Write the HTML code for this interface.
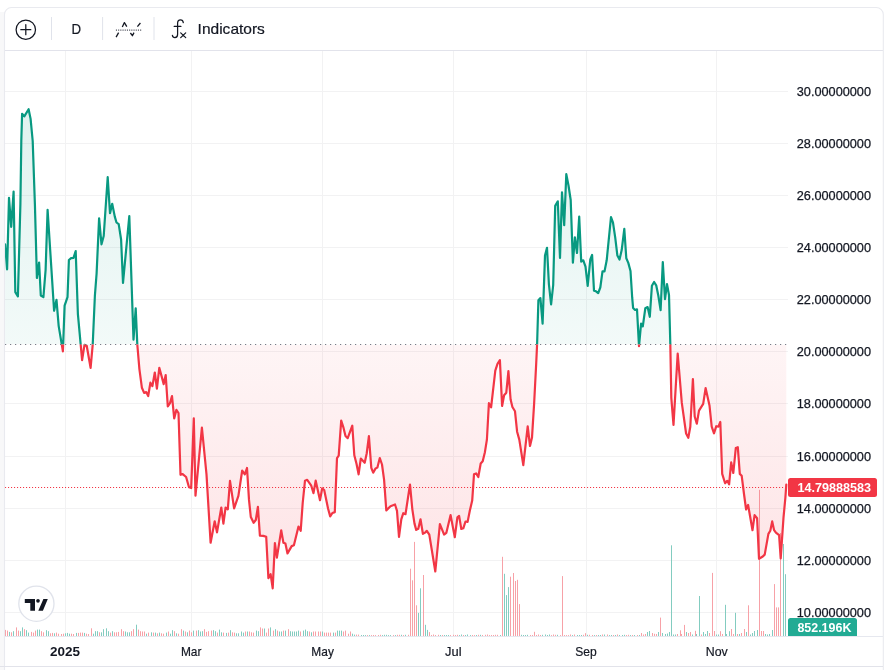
<!DOCTYPE html>
<html><head><meta charset="utf-8"><title>Chart</title>
<style>html,body{margin:0;padding:0;background:#fff;}body{width:884px;height:670px;overflow:hidden;font-family:"Liberation Sans",sans-serif;}svg{display:block;will-change:transform;}text{font-family:"Liberation Sans",sans-serif;}</style>
</head><body>
<svg width="884" height="670" viewBox="0 0 884 670">
<defs>
<linearGradient id="gt" gradientUnits="userSpaceOnUse" x1="0" y1="50.5" x2="0" y2="344.5"><stop offset="0" stop-color="#089981" stop-opacity="0.145"/><stop offset="1" stop-color="#089981" stop-opacity="0.05"/></linearGradient>
<linearGradient id="gb" gradientUnits="userSpaceOnUse" x1="0" y1="344.5" x2="0" y2="636.5"><stop offset="0" stop-color="#f23645" stop-opacity="0.05"/><stop offset="1" stop-color="#f23645" stop-opacity="0.16"/></linearGradient>
<clipPath id="cu"><rect x="0" y="50.5" width="884" height="294.0"/></clipPath>
<clipPath id="cd"><rect x="0" y="344.5" width="884" height="292.0"/></clipPath>
<clipPath id="frame"><rect x="4.5" y="7.5" width="878" height="659" rx="7" ry="7"/></clipPath>
</defs>
<rect x="0" y="0" width="884" height="670" fill="#fff"/>
<rect x="0" y="12" width="4.5" height="658" fill="#f8f8f9"/>
<g stroke="#f2f2f3" stroke-width="1">
<line x1="65.5" y1="50.5" x2="65.5" y2="636.5"/>
<line x1="191.5" y1="50.5" x2="191.5" y2="636.5"/>
<line x1="322.5" y1="50.5" x2="322.5" y2="636.5"/>
<line x1="453.5" y1="50.5" x2="453.5" y2="636.5"/>
<line x1="586.5" y1="50.5" x2="586.5" y2="636.5"/>
<line x1="716.5" y1="50.5" x2="716.5" y2="636.5"/>
<line x1="5" y1="91.5" x2="788" y2="91.5"/>
<line x1="5" y1="143.5" x2="788" y2="143.5"/>
<line x1="5" y1="195.5" x2="788" y2="195.5"/>
<line x1="5" y1="247.5" x2="788" y2="247.5"/>
<line x1="5" y1="299.5" x2="788" y2="299.5"/>
<line x1="5" y1="351.5" x2="788" y2="351.5"/>
<line x1="5" y1="403.5" x2="788" y2="403.5"/>
<line x1="5" y1="456.5" x2="788" y2="456.5"/>
<line x1="5" y1="508.5" x2="788" y2="508.5"/>
<line x1="5" y1="560.5" x2="788" y2="560.5"/>
<line x1="5" y1="612.5" x2="788" y2="612.5"/>
</g>
<g stroke-width="1" fill="none">
<path d="M5.5,636.0V629.9 M7.5,636.0V630.6 M11.5,636.0V632.3 M16.5,636.0V627.4 M18.5,636.0V630.6 M24.5,636.0V629.2 M31.5,636.0V631.9 M33.5,636.0V632.6 M35.5,636.0V630.6 M41.5,636.0V631.2 M43.5,636.0V632.3 M50.5,636.0V633.3 M52.5,636.0V632.9 M56.5,636.0V632.6 M58.5,636.0V633.7 M61.5,636.0V634 M63.5,636.0V633.7 M71.5,636.0V633.7 M73.5,636.0V634 M78.5,636.0V632.9 M80.5,636.0V632.6 M82.5,636.0V632.6 M86.5,636.0V633.7 M88.5,636.0V634 M91.5,636.0V628.3 M99.5,636.0V632.3 M110.5,636.0V632.6 M114.5,636.0V632.3 M116.5,636.0V632.3 M118.5,636.0V631.9 M121.5,636.0V629.2 M123.5,636.0V631.2 M131.5,636.0V631.2 M133.5,636.0V629.2 M138.5,636.0V629.6 M140.5,636.0V631.2 M142.5,636.0V631.5 M144.5,636.0V631.5 M148.5,636.0V632.6 M153.5,636.0V632.6 M157.5,636.0V633.3 M161.5,636.0V633.3 M163.5,636.0V633.7 M168.5,636.0V631.5 M174.5,636.0V631.2 M178.5,636.0V633.7 M181.5,636.0V629.2 M185.5,636.0V631.5 M189.5,636.0V630.6 M191.5,636.0V632.3 M196.5,636.0V630.6 M204.5,636.0V629.2 M206.5,636.0V631.9 M208.5,636.0V631.2 M211.5,636.0V630.6 M217.5,636.0V632.6 M223.5,636.0V632.6 M228.5,636.0V632.6 M232.5,636.0V632.3 M234.5,636.0V632.6 M245.5,636.0V631.5 M249.5,636.0V631.5 M251.5,636.0V632.3 M253.5,636.0V632.6 M260.5,636.0V627.4 M262.5,636.0V628.5 M266.5,636.0V632.6 M268.5,636.0V628.5 M273.5,636.0V630.6 M277.5,636.0V630.6 M283.5,636.0V630.6 M288.5,636.0V629.2 M300.5,636.0V631.5 M309.5,636.0V631.5 M313.5,636.0V631.5 M315.5,636.0V631.5 M318.5,636.0V631.5 M320.5,636.0V631.5 M324.5,636.0V632.6 M326.5,636.0V632.6 M328.5,636.0V632.6 M330.5,636.0V632.6 M335.5,636.0V632.6 M343.5,636.0V631.5 M345.5,636.0V630.6 M348.5,636.0V633.7 M350.5,636.0V631.5 M356.5,636.0V634.6 M358.5,636.0V634.6 M367.5,636.0V635.1 M371.5,636.0V635.1 M373.5,636.0V635 M375.5,636.0V635.1 M378.5,636.0V635 M380.5,636.0V634.8 M393.5,636.0V635.1 M397.5,636.0V634.8 M399.5,636.0V634.8 M403.5,636.0V635.1 M408.5,636.0V634.8 M431.5,636.0V635 M433.5,636.0V634.5 M435.5,636.0V635 M438.5,636.0V634.8 M442.5,636.0V635 M450.5,636.0V635.1 M453.5,636.0V634.8 M455.5,636.0V635 M457.5,636.0V634.8 M463.5,636.0V635 M472.5,636.0V635 M474.5,636.0V635.1 M478.5,636.0V634.8 M482.5,636.0V635 M485.5,636.0V634.8 M487.5,636.0V634.5 M489.5,636.0V635.1 M491.5,636.0V635 M493.5,636.0V635 M495.5,636.0V634.8 M497.5,636.0V634.8 M530.5,636.0V635 M532.5,636.0V635 M536.5,636.0V635 M538.5,636.0V634.5 M540.5,636.0V635 M551.5,636.0V635.1 M553.5,636.0V634.5 M555.5,636.0V634.8 M560.5,636.0V635.1 M564.5,636.0V635 M566.5,636.0V635.1 M568.5,636.0V635.1 M570.5,636.0V634.5 M574.5,636.0V634.5 M583.5,636.0V634.8 M589.5,636.0V634.8 M592.5,636.0V635 M596.5,636.0V635 M602.5,636.0V634.5 M607.5,636.0V634.5 M613.5,636.0V635 M617.5,636.0V634.5 M626.5,636.0V635 M628.5,636.0V634.8 M632.5,636.0V635 M637.5,636.0V635 M641.5,636.0V633 M643.5,636.0V634.5 M645.5,636.0V634 M677.5,636.0V634 M681.5,636.0V634 M688.5,636.0V633 M690.5,636.0V632 M701.5,636.0V634.5 M709.5,636.0V633 M714.5,636.0V631 M722.5,636.0V634 M733.5,636.0V634 M737.5,636.0V634 M741.5,636.0V633 M761.5,636.0V631 M763.5,636.0V631 M410.5,636.0V568.7 M412.5,636.0V580.3 M414.5,636.0V541.9 M416.5,636.0V605.3 M423.5,636.0V575 M429.5,636.0V632.1 M502.5,636.0V556.8 M510.5,636.0V576.7 M513.5,636.0V573 M515.5,636.0V581 M517.5,636.0V579.8 M519.5,636.0V604.1 M534.5,636.0V631.8 M562.5,636.0V576.1 M585.5,636.0V633.2 M652.5,636.0V633 M654.5,636.0V633.8 M656.5,636.0V634 M660.5,636.0V617.6 M680.5,636.0V630.3 M684.5,636.0V624.9 M695.5,636.0V630.8 M712.5,636.0V572.9 M720.5,636.0V631.2 M731.5,636.0V629 M744.5,636.0V629 M748.5,636.0V605.3 M759.5,636.0V489.8 M774.5,636.0V584.1 M776.5,636.0V607.4 M778.5,636.0V607.4 M780.5,636.0V533" stroke="#f7a1a7"/>
<path d="M9.5,636.0V631.9 M13.5,636.0V631.2 M20.5,636.0V631.2 M22.5,636.0V627.4 M26.5,636.0V630.2 M28.5,636.0V632.6 M37.5,636.0V629.6 M39.5,636.0V629.6 M46.5,636.0V630.2 M48.5,636.0V631.2 M54.5,636.0V633.3 M65.5,636.0V633.3 M67.5,636.0V632.9 M69.5,636.0V633.7 M76.5,636.0V632.9 M84.5,636.0V632.9 M93.5,636.0V633.7 M95.5,636.0V631.2 M97.5,636.0V631.2 M101.5,636.0V632.3 M103.5,636.0V629.2 M106.5,636.0V628.3 M108.5,636.0V631.2 M112.5,636.0V631.2 M125.5,636.0V631.5 M127.5,636.0V632.3 M129.5,636.0V632.3 M136.5,636.0V624.7 M146.5,636.0V633.7 M151.5,636.0V632.3 M155.5,636.0V632.6 M159.5,636.0V632.6 M166.5,636.0V632.6 M170.5,636.0V633.7 M172.5,636.0V630.2 M176.5,636.0V633.3 M183.5,636.0V630.6 M187.5,636.0V632.3 M193.5,636.0V630.6 M198.5,636.0V630.2 M200.5,636.0V631.5 M202.5,636.0V631.2 M213.5,636.0V630.2 M215.5,636.0V631.2 M219.5,636.0V629.6 M221.5,636.0V632.3 M226.5,636.0V632.9 M230.5,636.0V630.2 M236.5,636.0V633.3 M238.5,636.0V633.3 M241.5,636.0V631.5 M243.5,636.0V632.6 M247.5,636.0V631.5 M256.5,636.0V630.6 M258.5,636.0V631.2 M264.5,636.0V628.5 M270.5,636.0V627.4 M275.5,636.0V629.2 M279.5,636.0V631.5 M281.5,636.0V631.5 M285.5,636.0V630.6 M290.5,636.0V631.2 M292.5,636.0V631.5 M294.5,636.0V631.5 M296.5,636.0V631.5 M298.5,636.0V630.6 M303.5,636.0V630.6 M305.5,636.0V629.6 M307.5,636.0V631.2 M311.5,636.0V632.3 M322.5,636.0V631.5 M333.5,636.0V632.6 M337.5,636.0V630.6 M339.5,636.0V630.6 M341.5,636.0V630.6 M352.5,636.0V633.7 M354.5,636.0V634.6 M361.5,636.0V635 M363.5,636.0V635 M365.5,636.0V635.1 M369.5,636.0V635.1 M382.5,636.0V635.1 M384.5,636.0V634.8 M386.5,636.0V634.8 M388.5,636.0V635.1 M390.5,636.0V635.1 M395.5,636.0V635.1 M401.5,636.0V634.8 M405.5,636.0V634.8 M440.5,636.0V635 M444.5,636.0V635 M446.5,636.0V635 M448.5,636.0V635 M459.5,636.0V635.1 M461.5,636.0V634.5 M465.5,636.0V635 M467.5,636.0V634.5 M470.5,636.0V635.1 M476.5,636.0V635 M480.5,636.0V634.8 M500.5,636.0V635 M521.5,636.0V634.8 M523.5,636.0V635 M525.5,636.0V635 M527.5,636.0V634.8 M542.5,636.0V634.8 M545.5,636.0V634.5 M547.5,636.0V635 M549.5,636.0V634.5 M557.5,636.0V634.8 M572.5,636.0V635.1 M577.5,636.0V635 M579.5,636.0V635 M581.5,636.0V635 M587.5,636.0V634.8 M594.5,636.0V635.1 M598.5,636.0V635 M600.5,636.0V635 M604.5,636.0V634.5 M609.5,636.0V635.1 M611.5,636.0V635 M615.5,636.0V635 M619.5,636.0V635 M622.5,636.0V635 M624.5,636.0V634.8 M630.5,636.0V635.1 M634.5,636.0V635 M639.5,636.0V635 M647.5,636.0V632 M649.5,636.0V631 M658.5,636.0V632 M662.5,636.0V633 M673.5,636.0V634.5 M675.5,636.0V634.5 M692.5,636.0V634.5 M696.5,636.0V634 M703.5,636.0V632 M705.5,636.0V634 M707.5,636.0V631 M716.5,636.0V634.5 M718.5,636.0V634.5 M726.5,636.0V634 M739.5,636.0V634 M746.5,636.0V632 M750.5,636.0V634.5 M752.5,636.0V633 M754.5,636.0V631 M765.5,636.0V634 M767.5,636.0V634.5 M769.5,636.0V634 M418.5,636.0V612.9 M420.5,636.0V588.3 M425.5,636.0V624.8 M427.5,636.0V629.9 M504.5,636.0V573.8 M506.5,636.0V595.1 M508.5,636.0V587.1 M665.5,636.0V634 M667.5,636.0V633.5 M669.5,636.0V632 M671.5,636.0V545.3 M686.5,636.0V632 M699.5,636.0V596 M725.5,636.0V604.8 M729.5,636.0V631.2 M735.5,636.0V612.8 M757.5,636.0V630 M772.5,636.0V630 M783.5,636.0V544 M785.5,636.0V574.2" stroke="#83ccc0"/>
</g>
<path d="M5.1,344.5 L5.1,244.3 L7.1,269.3 L9,197.9 L11.2,226.8 L13.6,191.6 L15.3,292.1 L17.9,296.4 L20.4,204 L21.3,141 L22.1,113.8 L24.3,116.4 L28.6,109.2 L30.6,118.9 L32.7,141 L34.9,204 L36.9,278 L39.1,262.5 L40.8,295.5 L43.4,297.2 L45.6,270 L47.6,209.8 L54.1,310.8 L56.5,299.8 L58.7,326.1 L62.9,351.3 L64.6,305.7 L67.5,297.2 L68.9,260 L71.1,258.2 L73.5,257.9 L75.7,251.1 L77.9,314.2 L82.1,360.1 L84.5,344.8 L86.7,345.7 L90.6,367.8 L92.7,344.8 L94.9,295.5 L96.6,273.5 L99.1,218.3 L101.5,244.3 L103.7,236 L107.7,177.2 L110,213.2 L112.2,203.8 L114.8,216.6 L116.5,222.5 L118.7,224.2 L121.1,239.5 L123,282.9 L129.3,216 L133.5,339.7 L135.7,308.3 L137.3,344.5 L139.4,369.1 L141.9,387.8 L144.1,392.9 L146.2,392.1 L148.2,396 L150.4,382.7 L152.4,386.1 L154.8,372.5 L156.9,388.7 L159.3,367.8 L161.5,375.9 L163.7,384.1 L165.7,375.1 L167.8,406.5 L170,403.1 L172,396 L174.2,418.4 L176.4,409.9 L178.5,413 L180.5,474.8 L182.7,474.1 L186.1,477 L189,487.2 L191.2,488 L193.8,418.4 L195.5,495.7 L201.9,427.7 L206.5,474.4 L210.6,542.7 L214.7,521.3 L217,532.4 L221.3,507.5 L223.4,523.7 L225.6,507.5 L227.8,509.4 L230,480.9 L234.1,508.4 L238.4,495.8 L242.2,470.5 L244.8,474.4 L247,468 L249,499.9 L250.8,517 L253.6,522.8 L255.8,520 L257.9,506.8 L259.9,535.6 L263.3,535.9 L266.2,536.8 L268.4,578.1 L270.6,574.2 L272.7,588.3 L274.9,543.1 L276.9,557.7 L281.2,530.3 L283.4,542.7 L285.4,543.6 L287.5,553.4 L291.7,546.1 L293.9,545.3 L298.5,526.6 L300.7,530.8 L302.7,503 L305,480.7 L307.2,479.8 L311.1,485.3 L313.5,493.1 L315.7,480.7 L320,500.2 L322.2,488.3 L324.2,490 L328.1,508.7 L330.2,516.4 L332.4,513 L334.8,512.1 L337,458.1 L338.7,455.7 L341.2,420.6 L343.3,427.1 L345.5,436 L347.7,438.2 L352.3,425.7 L354.3,455.2 L356.5,463.7 L358.6,474.4 L360.8,458.6 L364.7,462.8 L366.7,453.5 L368.9,436.1 L371.3,467.9 L373.2,472.7 L375.6,468.4 L377.4,467.6 L379.8,458.1 L382,464.5 L384.1,479.8 L386.3,510.4 L390.5,506.2 L395,504.5 L397,510.8 L399,536.8 L401.3,519.3 L403.3,513.2 L405.5,514.2 L410,484.5 L412.3,509.1 L414.5,523.6 L416.2,529.9 L418.3,528.7 L420.5,519.3 L422.9,533.8 L425.1,532.6 L426.8,530.9 L429.3,534.6 L435.3,571.5 L439.9,524.1 L444.1,534.6 L446.3,532.9 L450.6,515.1 L454.8,537.2 L457.4,517.3 L459.1,515.9 L461.3,529 L463.3,528.3 L465.5,521.5 L467.6,521.9 L469.8,510.8 L472.2,500.6 L474,474.3 L476.1,473.4 L478.3,477 L480.7,463.5 L482.7,461.2 L484.9,452.2 L486.9,439.7 L488.9,403.2 L491.1,407.3 L495.3,370.6 L497.5,363.8 L499.9,360.1 L502.1,406 L504.1,395.3 L506.3,392.7 L508.4,371.1 L510.6,399.5 L512.4,407 L515,411.3 L517.1,431.7 L519.3,439.6 L523.3,465.2 L527.7,426.3 L530,446 L532,437.6 L534.1,404 L536.1,365.5 L537.1,344.3 L538.4,300.3 L540.4,298.1 L542.6,323.6 L545,255.6 L547,247.8 L548.9,284.1 L551.1,304.5 L553.2,285 L555.2,205.9 L557.8,201.3 L560,258 L562,192.3 L564.2,225.1 L566.3,174.1 L568.5,185.5 L570.7,200 L572.9,262.7 L574.9,237.4 L577,253 L579.2,216.6 L581.2,261.6 L583.3,260.3 L585.5,266.7 L587.7,285.8 L590.3,259.4 L592.1,255 L594,290.6 L596,291.3 L598.2,293.1 L600.3,287.5 L602.5,271.4 L604.5,271.4 L606.7,260.3 L611,217 L613,222.6 L615.2,237.4 L617.4,255.6 L619.5,259.6 L621.7,250.1 L624.3,228.9 L626.3,258.3 L628.3,262.9 L630.5,271 L632.2,297.7 L633.1,307.9 L635.1,310 L637,309.3 L639,346.2 L641.1,323.7 L642.8,326.3 L645.3,308.3 L647.6,307.1 L649.8,316.8 L651.9,285.7 L654.1,282 L656.2,285.3 L658.3,295.5 L660.6,310.2 L662.8,262 L665,299.2 L667,284.2 L669,295 L670.3,343.5 L671.3,397.8 L673.5,425 L677.7,353.5 L681.8,402.9 L686.1,433.5 L688.3,437.8 L690.3,426.7 L692.9,379.1 L694.7,416.5 L696.8,423.7 L699,410.6 L703.2,403.8 L705.6,388.1 L709.5,405.5 L711.7,426.7 L714,433.3 L716.3,426.2 L718.4,426.7 L720.3,422 L722.2,473.9 L725.1,483.3 L727.3,480.8 L729.1,484.3 L731.2,462.4 L733.3,473 L735.8,448.1 L737.8,447.2 L739.8,473.9 L741.7,475.8 L744,494 L746.1,509.5 L748.1,505 L750.2,517 L752.5,530.2 L754.6,515.1 L757.1,518.2 L759,558.8 L762.8,556.5 L764.7,554.6 L768.4,533.9 L770.3,530.8 L772.2,521.4 L774.1,530.2 L775.9,532.7 L779.1,535.2 L780.7,558.4 L783.5,517.6 L785.4,497.5 L786.3,484.6 L786.3,344.5 Z" fill="url(#gt)" clip-path="url(#cu)"/>
<path d="M5.1,344.5 L5.1,244.3 L7.1,269.3 L9,197.9 L11.2,226.8 L13.6,191.6 L15.3,292.1 L17.9,296.4 L20.4,204 L21.3,141 L22.1,113.8 L24.3,116.4 L28.6,109.2 L30.6,118.9 L32.7,141 L34.9,204 L36.9,278 L39.1,262.5 L40.8,295.5 L43.4,297.2 L45.6,270 L47.6,209.8 L54.1,310.8 L56.5,299.8 L58.7,326.1 L62.9,351.3 L64.6,305.7 L67.5,297.2 L68.9,260 L71.1,258.2 L73.5,257.9 L75.7,251.1 L77.9,314.2 L82.1,360.1 L84.5,344.8 L86.7,345.7 L90.6,367.8 L92.7,344.8 L94.9,295.5 L96.6,273.5 L99.1,218.3 L101.5,244.3 L103.7,236 L107.7,177.2 L110,213.2 L112.2,203.8 L114.8,216.6 L116.5,222.5 L118.7,224.2 L121.1,239.5 L123,282.9 L129.3,216 L133.5,339.7 L135.7,308.3 L137.3,344.5 L139.4,369.1 L141.9,387.8 L144.1,392.9 L146.2,392.1 L148.2,396 L150.4,382.7 L152.4,386.1 L154.8,372.5 L156.9,388.7 L159.3,367.8 L161.5,375.9 L163.7,384.1 L165.7,375.1 L167.8,406.5 L170,403.1 L172,396 L174.2,418.4 L176.4,409.9 L178.5,413 L180.5,474.8 L182.7,474.1 L186.1,477 L189,487.2 L191.2,488 L193.8,418.4 L195.5,495.7 L201.9,427.7 L206.5,474.4 L210.6,542.7 L214.7,521.3 L217,532.4 L221.3,507.5 L223.4,523.7 L225.6,507.5 L227.8,509.4 L230,480.9 L234.1,508.4 L238.4,495.8 L242.2,470.5 L244.8,474.4 L247,468 L249,499.9 L250.8,517 L253.6,522.8 L255.8,520 L257.9,506.8 L259.9,535.6 L263.3,535.9 L266.2,536.8 L268.4,578.1 L270.6,574.2 L272.7,588.3 L274.9,543.1 L276.9,557.7 L281.2,530.3 L283.4,542.7 L285.4,543.6 L287.5,553.4 L291.7,546.1 L293.9,545.3 L298.5,526.6 L300.7,530.8 L302.7,503 L305,480.7 L307.2,479.8 L311.1,485.3 L313.5,493.1 L315.7,480.7 L320,500.2 L322.2,488.3 L324.2,490 L328.1,508.7 L330.2,516.4 L332.4,513 L334.8,512.1 L337,458.1 L338.7,455.7 L341.2,420.6 L343.3,427.1 L345.5,436 L347.7,438.2 L352.3,425.7 L354.3,455.2 L356.5,463.7 L358.6,474.4 L360.8,458.6 L364.7,462.8 L366.7,453.5 L368.9,436.1 L371.3,467.9 L373.2,472.7 L375.6,468.4 L377.4,467.6 L379.8,458.1 L382,464.5 L384.1,479.8 L386.3,510.4 L390.5,506.2 L395,504.5 L397,510.8 L399,536.8 L401.3,519.3 L403.3,513.2 L405.5,514.2 L410,484.5 L412.3,509.1 L414.5,523.6 L416.2,529.9 L418.3,528.7 L420.5,519.3 L422.9,533.8 L425.1,532.6 L426.8,530.9 L429.3,534.6 L435.3,571.5 L439.9,524.1 L444.1,534.6 L446.3,532.9 L450.6,515.1 L454.8,537.2 L457.4,517.3 L459.1,515.9 L461.3,529 L463.3,528.3 L465.5,521.5 L467.6,521.9 L469.8,510.8 L472.2,500.6 L474,474.3 L476.1,473.4 L478.3,477 L480.7,463.5 L482.7,461.2 L484.9,452.2 L486.9,439.7 L488.9,403.2 L491.1,407.3 L495.3,370.6 L497.5,363.8 L499.9,360.1 L502.1,406 L504.1,395.3 L506.3,392.7 L508.4,371.1 L510.6,399.5 L512.4,407 L515,411.3 L517.1,431.7 L519.3,439.6 L523.3,465.2 L527.7,426.3 L530,446 L532,437.6 L534.1,404 L536.1,365.5 L537.1,344.3 L538.4,300.3 L540.4,298.1 L542.6,323.6 L545,255.6 L547,247.8 L548.9,284.1 L551.1,304.5 L553.2,285 L555.2,205.9 L557.8,201.3 L560,258 L562,192.3 L564.2,225.1 L566.3,174.1 L568.5,185.5 L570.7,200 L572.9,262.7 L574.9,237.4 L577,253 L579.2,216.6 L581.2,261.6 L583.3,260.3 L585.5,266.7 L587.7,285.8 L590.3,259.4 L592.1,255 L594,290.6 L596,291.3 L598.2,293.1 L600.3,287.5 L602.5,271.4 L604.5,271.4 L606.7,260.3 L611,217 L613,222.6 L615.2,237.4 L617.4,255.6 L619.5,259.6 L621.7,250.1 L624.3,228.9 L626.3,258.3 L628.3,262.9 L630.5,271 L632.2,297.7 L633.1,307.9 L635.1,310 L637,309.3 L639,346.2 L641.1,323.7 L642.8,326.3 L645.3,308.3 L647.6,307.1 L649.8,316.8 L651.9,285.7 L654.1,282 L656.2,285.3 L658.3,295.5 L660.6,310.2 L662.8,262 L665,299.2 L667,284.2 L669,295 L670.3,343.5 L671.3,397.8 L673.5,425 L677.7,353.5 L681.8,402.9 L686.1,433.5 L688.3,437.8 L690.3,426.7 L692.9,379.1 L694.7,416.5 L696.8,423.7 L699,410.6 L703.2,403.8 L705.6,388.1 L709.5,405.5 L711.7,426.7 L714,433.3 L716.3,426.2 L718.4,426.7 L720.3,422 L722.2,473.9 L725.1,483.3 L727.3,480.8 L729.1,484.3 L731.2,462.4 L733.3,473 L735.8,448.1 L737.8,447.2 L739.8,473.9 L741.7,475.8 L744,494 L746.1,509.5 L748.1,505 L750.2,517 L752.5,530.2 L754.6,515.1 L757.1,518.2 L759,558.8 L762.8,556.5 L764.7,554.6 L768.4,533.9 L770.3,530.8 L772.2,521.4 L774.1,530.2 L775.9,532.7 L779.1,535.2 L780.7,558.4 L783.5,517.6 L785.4,497.5 L786.3,484.6 L786.3,344.5 Z" fill="url(#gb)" clip-path="url(#cd)"/>
<line x1="5" y1="344.5" x2="787" y2="344.5" stroke="#787b86" stroke-width="1.2" stroke-dasharray="1.2 3.8"/>
<line x1="5" y1="487.5" x2="787" y2="487.5" stroke="#f23645" stroke-width="1.1" stroke-dasharray="1.1 1.9"/>
<polyline points="5.1,244.3 7.1,269.3 9,197.9 11.2,226.8 13.6,191.6 15.3,292.1 17.9,296.4 20.4,204 21.3,141 22.1,113.8 24.3,116.4 28.6,109.2 30.6,118.9 32.7,141 34.9,204 36.9,278 39.1,262.5 40.8,295.5 43.4,297.2 45.6,270 47.6,209.8 54.1,310.8 56.5,299.8 58.7,326.1 62.9,351.3 64.6,305.7 67.5,297.2 68.9,260 71.1,258.2 73.5,257.9 75.7,251.1 77.9,314.2 82.1,360.1 84.5,344.8 86.7,345.7 90.6,367.8 92.7,344.8 94.9,295.5 96.6,273.5 99.1,218.3 101.5,244.3 103.7,236 107.7,177.2 110,213.2 112.2,203.8 114.8,216.6 116.5,222.5 118.7,224.2 121.1,239.5 123,282.9 129.3,216 133.5,339.7 135.7,308.3 137.3,344.5 139.4,369.1 141.9,387.8 144.1,392.9 146.2,392.1 148.2,396 150.4,382.7 152.4,386.1 154.8,372.5 156.9,388.7 159.3,367.8 161.5,375.9 163.7,384.1 165.7,375.1 167.8,406.5 170,403.1 172,396 174.2,418.4 176.4,409.9 178.5,413 180.5,474.8 182.7,474.1 186.1,477 189,487.2 191.2,488 193.8,418.4 195.5,495.7 201.9,427.7 206.5,474.4 210.6,542.7 214.7,521.3 217,532.4 221.3,507.5 223.4,523.7 225.6,507.5 227.8,509.4 230,480.9 234.1,508.4 238.4,495.8 242.2,470.5 244.8,474.4 247,468 249,499.9 250.8,517 253.6,522.8 255.8,520 257.9,506.8 259.9,535.6 263.3,535.9 266.2,536.8 268.4,578.1 270.6,574.2 272.7,588.3 274.9,543.1 276.9,557.7 281.2,530.3 283.4,542.7 285.4,543.6 287.5,553.4 291.7,546.1 293.9,545.3 298.5,526.6 300.7,530.8 302.7,503 305,480.7 307.2,479.8 311.1,485.3 313.5,493.1 315.7,480.7 320,500.2 322.2,488.3 324.2,490 328.1,508.7 330.2,516.4 332.4,513 334.8,512.1 337,458.1 338.7,455.7 341.2,420.6 343.3,427.1 345.5,436 347.7,438.2 352.3,425.7 354.3,455.2 356.5,463.7 358.6,474.4 360.8,458.6 364.7,462.8 366.7,453.5 368.9,436.1 371.3,467.9 373.2,472.7 375.6,468.4 377.4,467.6 379.8,458.1 382,464.5 384.1,479.8 386.3,510.4 390.5,506.2 395,504.5 397,510.8 399,536.8 401.3,519.3 403.3,513.2 405.5,514.2 410,484.5 412.3,509.1 414.5,523.6 416.2,529.9 418.3,528.7 420.5,519.3 422.9,533.8 425.1,532.6 426.8,530.9 429.3,534.6 435.3,571.5 439.9,524.1 444.1,534.6 446.3,532.9 450.6,515.1 454.8,537.2 457.4,517.3 459.1,515.9 461.3,529 463.3,528.3 465.5,521.5 467.6,521.9 469.8,510.8 472.2,500.6 474,474.3 476.1,473.4 478.3,477 480.7,463.5 482.7,461.2 484.9,452.2 486.9,439.7 488.9,403.2 491.1,407.3 495.3,370.6 497.5,363.8 499.9,360.1 502.1,406 504.1,395.3 506.3,392.7 508.4,371.1 510.6,399.5 512.4,407 515,411.3 517.1,431.7 519.3,439.6 523.3,465.2 527.7,426.3 530,446 532,437.6 534.1,404 536.1,365.5 537.1,344.3 538.4,300.3 540.4,298.1 542.6,323.6 545,255.6 547,247.8 548.9,284.1 551.1,304.5 553.2,285 555.2,205.9 557.8,201.3 560,258 562,192.3 564.2,225.1 566.3,174.1 568.5,185.5 570.7,200 572.9,262.7 574.9,237.4 577,253 579.2,216.6 581.2,261.6 583.3,260.3 585.5,266.7 587.7,285.8 590.3,259.4 592.1,255 594,290.6 596,291.3 598.2,293.1 600.3,287.5 602.5,271.4 604.5,271.4 606.7,260.3 611,217 613,222.6 615.2,237.4 617.4,255.6 619.5,259.6 621.7,250.1 624.3,228.9 626.3,258.3 628.3,262.9 630.5,271 632.2,297.7 633.1,307.9 635.1,310 637,309.3 639,346.2 641.1,323.7 642.8,326.3 645.3,308.3 647.6,307.1 649.8,316.8 651.9,285.7 654.1,282 656.2,285.3 658.3,295.5 660.6,310.2 662.8,262 665,299.2 667,284.2 669,295 670.3,343.5 671.3,397.8 673.5,425 677.7,353.5 681.8,402.9 686.1,433.5 688.3,437.8 690.3,426.7 692.9,379.1 694.7,416.5 696.8,423.7 699,410.6 703.2,403.8 705.6,388.1 709.5,405.5 711.7,426.7 714,433.3 716.3,426.2 718.4,426.7 720.3,422 722.2,473.9 725.1,483.3 727.3,480.8 729.1,484.3 731.2,462.4 733.3,473 735.8,448.1 737.8,447.2 739.8,473.9 741.7,475.8 744,494 746.1,509.5 748.1,505 750.2,517 752.5,530.2 754.6,515.1 757.1,518.2 759,558.8 762.8,556.5 764.7,554.6 768.4,533.9 770.3,530.8 772.2,521.4 774.1,530.2 775.9,532.7 779.1,535.2 780.7,558.4 783.5,517.6 785.4,497.5 786.3,484.6" fill="none" stroke="#089981" stroke-width="2.2" stroke-linejoin="round" stroke-linecap="round" clip-path="url(#cu)"/>
<polyline points="5.1,244.3 7.1,269.3 9,197.9 11.2,226.8 13.6,191.6 15.3,292.1 17.9,296.4 20.4,204 21.3,141 22.1,113.8 24.3,116.4 28.6,109.2 30.6,118.9 32.7,141 34.9,204 36.9,278 39.1,262.5 40.8,295.5 43.4,297.2 45.6,270 47.6,209.8 54.1,310.8 56.5,299.8 58.7,326.1 62.9,351.3 64.6,305.7 67.5,297.2 68.9,260 71.1,258.2 73.5,257.9 75.7,251.1 77.9,314.2 82.1,360.1 84.5,344.8 86.7,345.7 90.6,367.8 92.7,344.8 94.9,295.5 96.6,273.5 99.1,218.3 101.5,244.3 103.7,236 107.7,177.2 110,213.2 112.2,203.8 114.8,216.6 116.5,222.5 118.7,224.2 121.1,239.5 123,282.9 129.3,216 133.5,339.7 135.7,308.3 137.3,344.5 139.4,369.1 141.9,387.8 144.1,392.9 146.2,392.1 148.2,396 150.4,382.7 152.4,386.1 154.8,372.5 156.9,388.7 159.3,367.8 161.5,375.9 163.7,384.1 165.7,375.1 167.8,406.5 170,403.1 172,396 174.2,418.4 176.4,409.9 178.5,413 180.5,474.8 182.7,474.1 186.1,477 189,487.2 191.2,488 193.8,418.4 195.5,495.7 201.9,427.7 206.5,474.4 210.6,542.7 214.7,521.3 217,532.4 221.3,507.5 223.4,523.7 225.6,507.5 227.8,509.4 230,480.9 234.1,508.4 238.4,495.8 242.2,470.5 244.8,474.4 247,468 249,499.9 250.8,517 253.6,522.8 255.8,520 257.9,506.8 259.9,535.6 263.3,535.9 266.2,536.8 268.4,578.1 270.6,574.2 272.7,588.3 274.9,543.1 276.9,557.7 281.2,530.3 283.4,542.7 285.4,543.6 287.5,553.4 291.7,546.1 293.9,545.3 298.5,526.6 300.7,530.8 302.7,503 305,480.7 307.2,479.8 311.1,485.3 313.5,493.1 315.7,480.7 320,500.2 322.2,488.3 324.2,490 328.1,508.7 330.2,516.4 332.4,513 334.8,512.1 337,458.1 338.7,455.7 341.2,420.6 343.3,427.1 345.5,436 347.7,438.2 352.3,425.7 354.3,455.2 356.5,463.7 358.6,474.4 360.8,458.6 364.7,462.8 366.7,453.5 368.9,436.1 371.3,467.9 373.2,472.7 375.6,468.4 377.4,467.6 379.8,458.1 382,464.5 384.1,479.8 386.3,510.4 390.5,506.2 395,504.5 397,510.8 399,536.8 401.3,519.3 403.3,513.2 405.5,514.2 410,484.5 412.3,509.1 414.5,523.6 416.2,529.9 418.3,528.7 420.5,519.3 422.9,533.8 425.1,532.6 426.8,530.9 429.3,534.6 435.3,571.5 439.9,524.1 444.1,534.6 446.3,532.9 450.6,515.1 454.8,537.2 457.4,517.3 459.1,515.9 461.3,529 463.3,528.3 465.5,521.5 467.6,521.9 469.8,510.8 472.2,500.6 474,474.3 476.1,473.4 478.3,477 480.7,463.5 482.7,461.2 484.9,452.2 486.9,439.7 488.9,403.2 491.1,407.3 495.3,370.6 497.5,363.8 499.9,360.1 502.1,406 504.1,395.3 506.3,392.7 508.4,371.1 510.6,399.5 512.4,407 515,411.3 517.1,431.7 519.3,439.6 523.3,465.2 527.7,426.3 530,446 532,437.6 534.1,404 536.1,365.5 537.1,344.3 538.4,300.3 540.4,298.1 542.6,323.6 545,255.6 547,247.8 548.9,284.1 551.1,304.5 553.2,285 555.2,205.9 557.8,201.3 560,258 562,192.3 564.2,225.1 566.3,174.1 568.5,185.5 570.7,200 572.9,262.7 574.9,237.4 577,253 579.2,216.6 581.2,261.6 583.3,260.3 585.5,266.7 587.7,285.8 590.3,259.4 592.1,255 594,290.6 596,291.3 598.2,293.1 600.3,287.5 602.5,271.4 604.5,271.4 606.7,260.3 611,217 613,222.6 615.2,237.4 617.4,255.6 619.5,259.6 621.7,250.1 624.3,228.9 626.3,258.3 628.3,262.9 630.5,271 632.2,297.7 633.1,307.9 635.1,310 637,309.3 639,346.2 641.1,323.7 642.8,326.3 645.3,308.3 647.6,307.1 649.8,316.8 651.9,285.7 654.1,282 656.2,285.3 658.3,295.5 660.6,310.2 662.8,262 665,299.2 667,284.2 669,295 670.3,343.5 671.3,397.8 673.5,425 677.7,353.5 681.8,402.9 686.1,433.5 688.3,437.8 690.3,426.7 692.9,379.1 694.7,416.5 696.8,423.7 699,410.6 703.2,403.8 705.6,388.1 709.5,405.5 711.7,426.7 714,433.3 716.3,426.2 718.4,426.7 720.3,422 722.2,473.9 725.1,483.3 727.3,480.8 729.1,484.3 731.2,462.4 733.3,473 735.8,448.1 737.8,447.2 739.8,473.9 741.7,475.8 744,494 746.1,509.5 748.1,505 750.2,517 752.5,530.2 754.6,515.1 757.1,518.2 759,558.8 762.8,556.5 764.7,554.6 768.4,533.9 770.3,530.8 772.2,521.4 774.1,530.2 775.9,532.7 779.1,535.2 780.7,558.4 783.5,517.6 785.4,497.5 786.3,484.6" fill="none" stroke="#f23645" stroke-width="2.2" stroke-linejoin="round" stroke-linecap="round" clip-path="url(#cd)"/>
<line x1="4.5" y1="636.5" x2="883" y2="636.5" stroke="#e6e8ef" stroke-width="1"/>
<line x1="4.5" y1="50.5" x2="883" y2="50.5" stroke="#e2e3eb" stroke-width="1"/>
<g fill="#131722" font-size="12.6" stroke="#131722" stroke-width="0.25">
<text x="796.8" y="95.5" textLength="74.2" lengthAdjust="spacingAndGlyphs">30.00000000</text>
<text x="796.8" y="147.5" textLength="74.2" lengthAdjust="spacingAndGlyphs">28.00000000</text>
<text x="796.8" y="199.5" textLength="74.2" lengthAdjust="spacingAndGlyphs">26.00000000</text>
<text x="796.8" y="251.5" textLength="74.2" lengthAdjust="spacingAndGlyphs">24.00000000</text>
<text x="796.8" y="303.5" textLength="74.2" lengthAdjust="spacingAndGlyphs">22.00000000</text>
<text x="796.8" y="355.5" textLength="74.2" lengthAdjust="spacingAndGlyphs">20.00000000</text>
<text x="796.8" y="407.5" textLength="74.2" lengthAdjust="spacingAndGlyphs">18.00000000</text>
<text x="796.8" y="460.5" textLength="74.2" lengthAdjust="spacingAndGlyphs">16.00000000</text>
<text x="796.8" y="512.5" textLength="74.2" lengthAdjust="spacingAndGlyphs">14.00000000</text>
<text x="796.8" y="564.5" textLength="74.2" lengthAdjust="spacingAndGlyphs">12.00000000</text>
<text x="796.8" y="616.5" textLength="74.2" lengthAdjust="spacingAndGlyphs">10.00000000</text>
</g>
<rect x="788" y="478" width="89" height="19" rx="2.5" fill="#f23645"/>
<text x="797.4" y="492" font-size="12.6" font-weight="bold" fill="#fff" textLength="73.6" lengthAdjust="spacingAndGlyphs">14.79888583</text>
<path d="M788,636V620.5A2.5,2.5 0 0 1 790.5,618H854.5A2.5,2.5 0 0 1 857,620.5V636Z" fill="#22ab94"/>
<text x="797.4" y="631.7" font-size="12.6" font-weight="bold" fill="#fff" textLength="54" lengthAdjust="spacingAndGlyphs">852.196K</text>
<g fill="#131722" font-size="13" text-anchor="middle">
<text x="65" y="655.5" font-weight="bold" textLength="30" lengthAdjust="spacingAndGlyphs">2025</text>
<text x="191.2" y="655.5" textLength="20.5" lengthAdjust="spacingAndGlyphs" stroke="#131722" stroke-width="0.2">Mar</text>
<text x="322.6" y="655.5" textLength="22.5" lengthAdjust="spacingAndGlyphs" stroke="#131722" stroke-width="0.2">May</text>
<text x="453.3" y="655.5" textLength="16.5" lengthAdjust="spacingAndGlyphs" stroke="#131722" stroke-width="0.2">Jul</text>
<text x="586" y="655.5" textLength="21.5" lengthAdjust="spacingAndGlyphs" stroke="#131722" stroke-width="0.2">Sep</text>
<text x="716.8" y="655.5" textLength="22" lengthAdjust="spacingAndGlyphs" stroke="#131722" stroke-width="0.2">Nov</text>
</g>
<circle cx="36.4" cy="603.7" r="17.6" fill="#fff" stroke="#e0e3eb" stroke-width="1.3"/>
<path d="M24.8,599H35V610.7H30.3V602.9H24.8Z M43.4,599H47.8L42.9,610.7H38.3Z" fill="#131722"/><circle cx="38" cy="600.8" r="1.85" fill="#131722"/>
<g fill="none" stroke="#131722" stroke-width="1.25" stroke-linecap="round" stroke-linejoin="round">
<circle cx="25.8" cy="29.7" r="9.7"/><path d="M20.8,29.7H30.8M25.8,24.7V34.7"/>
<path d="M116.1,37.1L118.6,32.6M122.3,27.1L124.4,22.6L126.8,26.7M130.4,33L132.4,35.7L134,32.6M137.4,26.7L140.4,23" stroke-width="1.3" stroke-linecap="butt"/>
<path d="M183.3,22.6C183.1,20.8 182.1,19.8 180.5,19.8C178.6,19.8 177.6,21 177.6,23.2V34.2C177.6,36.4 176.6,37.5 174.9,37.5C173.5,37.5 172.6,36.7 172.4,35.3M174.2,26.4H180.9M180.7,32.9L185.7,37.6M185.7,32.9L180.7,37.6"/>
</g>
<line x1="115.9" y1="30.1" x2="141.9" y2="30.1" stroke="#50535e" stroke-width="1.3" stroke-dasharray="1.1 1.1"/>
<g stroke="#e0e3eb" stroke-width="1"><line x1="51.5" y1="17" x2="51.5" y2="40"/><line x1="102.6" y1="17" x2="102.6" y2="40"/><line x1="154" y1="17" x2="154" y2="40"/></g>
<text x="71.6" y="34" font-size="15.3" fill="#131722" stroke="#131722" stroke-width="0.2" textLength="9.6" lengthAdjust="spacingAndGlyphs">D</text>
<text x="197.6" y="33.9" font-size="15" fill="#131722" stroke="#131722" stroke-width="0.2" textLength="67.3" lengthAdjust="spacingAndGlyphs">Indicators</text>
<path d="M4.5,670V14.5A7,7 0 0 1 11.5,7.5H876.3A7,7 0 0 1 883.3,14.5V670" fill="none" stroke="#e9eaef" stroke-width="1.1"/>
<line x1="0" y1="666.5" x2="883" y2="666.5" stroke="#e2e3ea" stroke-width="1.1"/>
</svg>
</body></html>
